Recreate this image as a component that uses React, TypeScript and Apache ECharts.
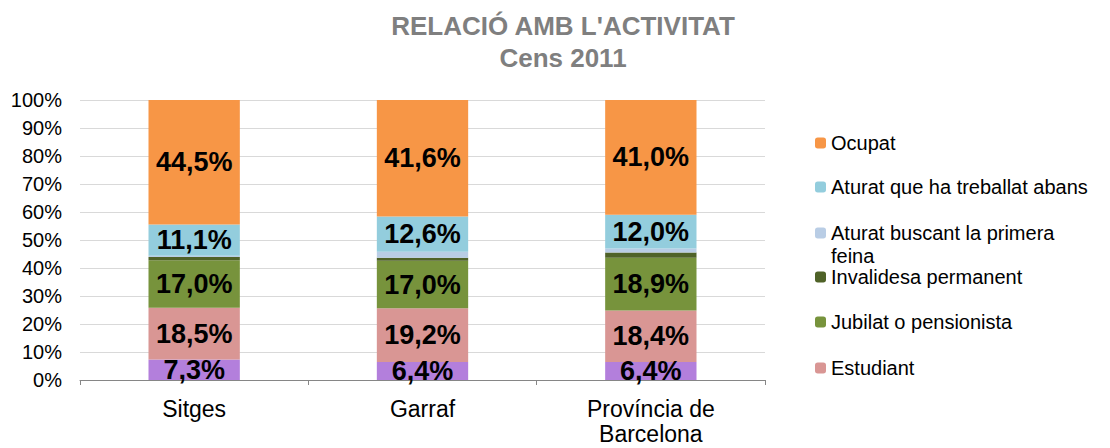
import React, { useEffect, useRef } from "react";
import * as echarts from "echarts";

const categories = ["Sitges", "Garraf", "Província de\nBarcelona"];
const altres = [7.3, 6.4, 6.4];
const estudiant = [18.5, 19.2, 18.4];
const jubilat = [17.0, 17.0, 18.9];
const invalidesa = [1.1, 1.1, 1.8];
const aturatBuscant = [0.5, 2.1, 1.5];
const aturatTreballat = [11.1, 12.6, 12.0];
const ocupat = [44.5, 41.6, 41.0];
const yTicks = [0, 10, 20, 30, 40, 50, 60, 70, 80, 90, 100];

const FONT = "'Liberation Sans', Arial, sans-serif";

export default function App() {
  const ref = useRef<HTMLDivElement>(null);
  useEffect(() => {
    if (!ref.current) return;
    const chart = echarts.init(ref.current, undefined, { renderer: "svg" });
    const fmt = (p: any) => p.value.toFixed(1).replace(".", ",") + "%";
    const label = {
      show: true,
      position: "inside",
      formatter: fmt,
      fontSize: 27,
      fontWeight: "bold",
      color: "#000",
      fontFamily: FONT,
    };
    const mk = (name: string, data: number[], color: string, showLabel: boolean) => ({
      name,
      type: "bar",
      stack: "total",
      data,
      barWidth: "40%",
      itemStyle: { color },
      label: showLabel ? label : { show: false },
      emphasis: { disabled: true },
    });
    const legendItems = [
      { name: "Ocupat", y: 143 },
      { name: "Aturat que ha treballat abans", y: 187 },
      { name: "Aturat buscant la primera feina", y: 233 },
      { name: "Invalidesa permanent", y: 277 },
      { name: "Jubilat o pensionista", y: 322 },
      { name: "Estudiant", y: 368 },
    ];
    chart.setOption({
      animation: false,
      textStyle: { fontFamily: FONT },
      title: {
        text: "RELACIÓ AMB L'ACTIVITAT\nCens 2011",
        left: 558,
        textAlign: "center",
        top: 5,
        textStyle: {
          fontSize: 26,
          fontWeight: "bold",
          color: "#7F7F7F",
          lineHeight: 32,
          fontFamily: FONT,
        },
      },
      legend: legendItems.map((it) => ({
        data: [it.name],
        orient: "vertical",
        left: 815,
        top: it.y - 11,
        padding: 0,
        itemWidth: 11,
        itemHeight: 11,
        itemGap: 4,
        selectedMode: false,
        formatter: (n: string) =>
          n === "Aturat buscant la primera feina" ? "Aturat buscant la primera" : n,
        textStyle: { fontSize: 20, color: "#000", lineHeight: 22, fontFamily: FONT },
      })),
      graphic: [
        {
          type: "text",
          left: 831,
          top: 246,
          style: { text: "feina", font: `20px ${FONT}`, fill: "#000" },
        },
      ],
      grid: { left: 80, right: 345, top: 100, bottom: 68 },
      xAxis: {
        type: "category",
        data: categories,
        axisLine: { lineStyle: { color: "#868686", width: 1 } },
        axisTick: { show: true, length: 5, lineStyle: { color: "#868686" } },
        axisLabel: { fontSize: 23, color: "#000", lineHeight: 25, margin: 16, fontFamily: FONT },
      },
      yAxis: {
        type: "value",
        min: yTicks[0],
        max: yTicks[yTicks.length - 1],
        interval: 10,
        axisLine: { show: false },
        axisTick: { show: false },
        splitLine: { lineStyle: { color: "#D9D9D9", width: 1 } },
        axisLabel: { formatter: "{value}%", fontSize: 20, color: "#000", margin: 18, fontFamily: FONT },
      },
      series: [
        mk("Altres", altres, "#B37FDC", true),
        mk("Estudiant", estudiant, "#D99694", true),
        mk("Jubilat o pensionista", jubilat, "#77933C", true),
        mk("Invalidesa permanent", invalidesa, "#4F6228", false),
        mk("Aturat buscant la primera feina", aturatBuscant, "#B9CDE5", false),
        mk("Aturat que ha treballat abans", aturatTreballat, "#93CDDD", true),
        mk("Ocupat", ocupat, "#F79646", true),
      ],
    });
    return () => chart.dispose();
  }, []);
  return (
    <div
      ref={ref}
      style={{ position: "absolute", left: 0, top: 0, width: 1110, height: 448 }}
    />
  );
}
